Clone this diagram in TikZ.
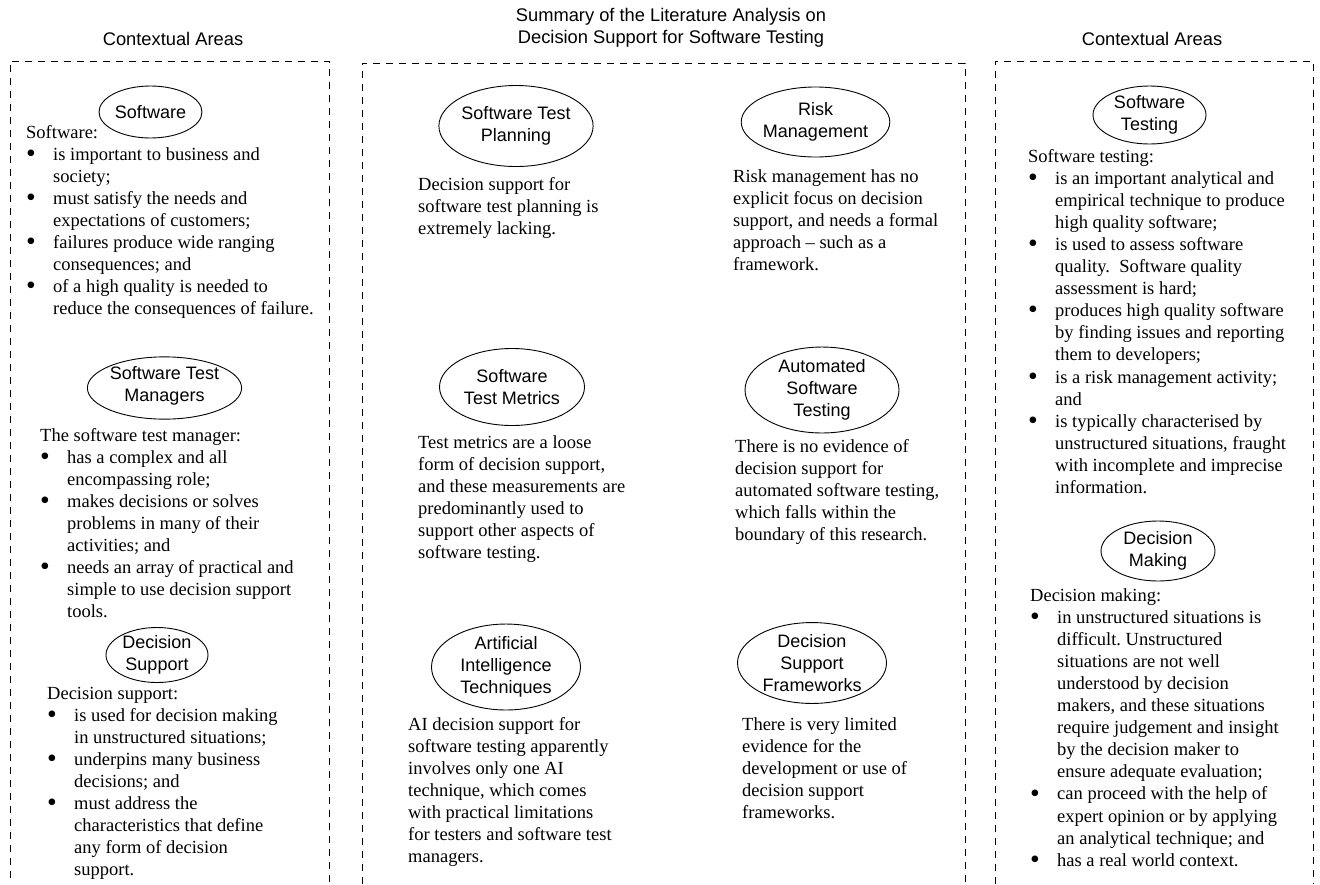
\documentclass[tikz,border=0pt]{standalone}
\usepackage{fontspec}
\usepackage{graphicx}
\setmainfont{Liberation Serif}
\newfontfamily\headfont{Liberation Sans}
\usetikzlibrary{shapes.geometric}
\frenchspacing

% body text and heading fonts
\newcommand\bodyfont{\fontsize{18.5}{22.1}\selectfont}
\newcommand\ovalfont{\headfont\fontsize{18}{22}\selectfont}
\newcommand\titlefont{\headfont\fontsize{18.3}{21.5}\selectfont}
% bullet cell of a point list (a slightly enlarged bullet)
\newcommand\itm{\makebox[27pt][l]{\raisebox{-2.1pt}{\scalebox{1.5}{\textbullet}}}}
% heading line followed by bulleted lines
\newenvironment{pointlist}[1]%
  {\begin{tabular}[t]{@{}l@{}l@{}}\multicolumn{2}{@{}l@{}}{#1}\\}%
  {\end{tabular}}
\newenvironment{lines}{\begin{tabular}[t]{@{}l@{}}}{\end{tabular}}

\tikzset{
  frame/.style={draw, line width=0.8pt, dash pattern=on 7pt off 6pt},
  oval/.style={draw, ellipse, line width=0.9pt, inner sep=0pt,
    font=\ovalfont, align=center},
  blurb/.style={anchor=base west, inner sep=0pt, font=\bodyfont},
  heading/.style={inner sep=0pt, font=\titlefont, align=center}
}

\begin{document}
\begin{tikzpicture}[x=1pt, y=-1pt]
\useasboundingbox (0,0) rectangle (1320,884);

% column titles
\node[heading] (tleft) at (173,39) {Contextual Areas};
\node[heading] (tmid) at (671,28) {Summary of the Literature Analysis on\\Decision Support for Software Testing};
\node[heading] (tright) at (1152,39) {Contextual Areas};

% dashed column frames, open at the bottom
\draw[frame] (10,878) -- (10,61) -- (329,61) -- (329,884);
\draw[frame] (362,884) -- (362,63) -- (965,63) -- (965,884);
\draw[frame] (995,884) -- (995,61) -- (1313,61) -- (1313,884);

% ---- left column ----
\node[oval, minimum width=103pt, minimum height=52pt] (sw) at (150.5,112) {Software};
\node[blurb] (swtext) at (26,138) {\begin{pointlist}{Software:}
\itm & is important to business and\\
     & society;\\
\itm & must satisfy the needs and\\
     & expectations of customers;\\
\itm & failures produce wide ranging\\
     & consequences; and\\
\itm & of a high quality is needed to\\
     & reduce the consequences of failure.
\end{pointlist}};

\node[oval, minimum width=147pt, minimum height=60pt] (stm) at (164.5,388) {Software Test\\Managers\\[-13pt]};
\node[blurb] (stmtext) at (40,441) {\begin{pointlist}{The software test manager:}
\itm & has a complex and all\\
     & encompassing role;\\
\itm & makes decisions or solves\\
     & problems in many of their\\
     & activities; and\\
\itm & needs an array of practical and\\
     & simple to use decision support\\
     & tools.
\end{pointlist}};

\node[oval, minimum width=102pt, minimum height=55pt] (ds) at (157,655) {Decision\\Support};
\node[blurb] (dstext) at (47,699) {\begin{pointlist}{Decision support:}
\itm & is used for decision making\\
     & in unstructured situations;\\
\itm & underpins many business\\
     & decisions; and\\
\itm & must address the\\
     & characteristics that define\\
     & any form of decision\\
     & support.
\end{pointlist}};

% ---- middle column ----
\node[oval, minimum width=153pt, minimum height=81pt] (stp) at (516,126) {Software Test\\Planning};
\node[blurb] (stptext) at (418,190) {\begin{lines}
Decision support for\\
software test planning is\\
extremely lacking.
\end{lines}};

\node[oval, minimum width=141pt, minimum height=70pt] (rm) at (815.5,122) {Risk\\Management};
\node[blurb] (rmtext) at (733,182) {\begin{lines}
Risk management has no\\
explicit focus on decision\\
support, and needs a formal\\
approach -- such as a\\
framework.
\end{lines}};

\node[oval, minimum width=145pt, minimum height=77pt] (stmet) at (512,387) {Software\\Test Metrics};
\node[blurb] (stmettext) at (418,448) {\begin{lines}
Test metrics are a loose\\
form of decision support,\\
and these measurements are\\
predominantly used to\\
support other aspects of\\
software testing.
\end{lines}};

\node[oval, minimum width=154pt, minimum height=81pt] (ast) at (822,390) {Automated\\Software\\Testing};
\node[blurb] (asttext) at (735,452) {\begin{lines}
There is no evidence of\\
decision support for\\
automated software testing,\\
which falls within the\\
boundary of this research.
\end{lines}};

\node[oval, minimum width=149pt, minimum height=79pt] (ai) at (506,667) {Artificial\\Intelligence\\Techniques};
\node[blurb] (aitext) at (408,730) {\begin{lines}
AI decision support for\\
software testing apparently\\
involves only one AI\\
technique, which comes\\
with practical limitations\\
for testers and software test\\
managers.
\end{lines}};

\node[oval, minimum width=149pt, minimum height=79pt] (dsf) at (812,663) {Decision\\Support\\Frameworks};
\node[blurb] (dsftext) at (742,730) {\begin{lines}
There is very limited\\
evidence for the\\
development or use of\\
decision support\\
frameworks.
\end{lines}};

% ---- right column ----
\node[oval, minimum width=113pt, minimum height=58pt] (st) at (1149.5,115) {Software\\Testing};
\node[blurb] (sttext) at (1028,162) {\begin{pointlist}{Software testing:}
\itm & is an important analytical and\\
     & empirical technique to produce\\
     & high quality software;\\
\itm & is used to assess software\\
     & quality.\ \ Software quality\\
     & assessment is hard;\\
\itm & produces high quality software\\
     & by finding issues and reporting\\
     & them to developers;\\
\itm & is a risk management activity;\\
     & and\\
\itm & is typically characterised by\\
     & unstructured situations, fraught\\
     & with incomplete and imprecise\\
     & information.
\end{pointlist}};

\node[oval, minimum width=114pt, minimum height=60pt] (dm) at (1158,551) {Decision\\Making};
\node[blurb] (dmtext) at (1030,601) {\begin{pointlist}{Decision making:}
\itm & in unstructured situations is\\
     & difficult. Unstructured\\
     & situations are not well\\
     & understood by decision\\
     & makers, and these situations\\
     & require judgement and insight\\
     & by the decision maker to\\
     & ensure adequate evaluation;\\
\itm & can proceed with the help of\\
     & expert opinion or by applying\\
     & an analytical technique; and\\
\itm & has a real world context.
\end{pointlist}};
\end{tikzpicture}
\end{document}
